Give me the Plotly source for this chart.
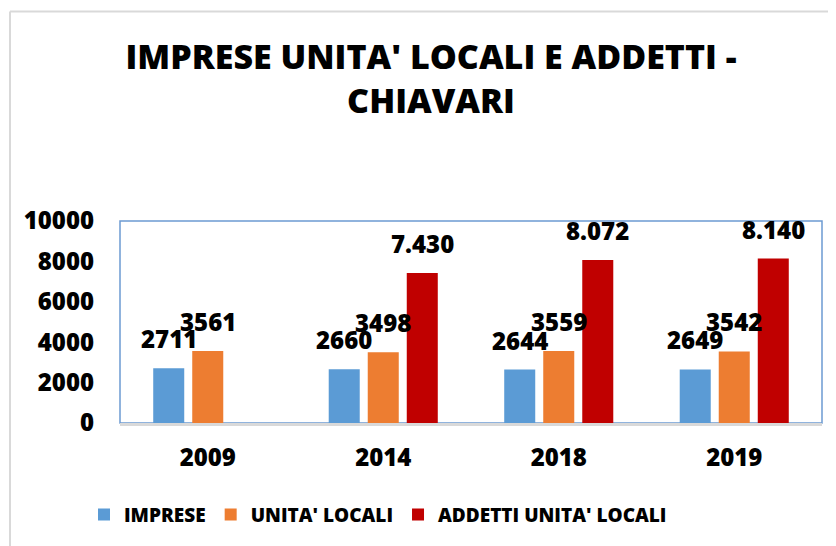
import plotly.graph_objects as go

years = ["2009", "2014", "2018", "2019"]
imprese = [2711, 2660, 2644, 2649]
unita_locali = [3561, 3498, 3559, 3542]
addetti = [None, 7430, 8072, 8140]

series_names = ["IMPRESE", "UNITA' LOCALI", "ADDETTI UNITA' LOCALI"]
colors = ["#5B9BD5", "#ED7D31", "#C00000"]
y_ticks = [0, 2000, 4000, 6000, 8000, 10000]

FONT = "Open Sans"
fs = 24

# figure is placed at (8, 8) in the page (body margin)
W, H = 828, 538
L, R, T, B = 112, 14, 213, 123
PW, PH = W - L - R, H - T - B

def fmt_plain(v):
    return str(v)

def fmt_dot(v):
    return f"{v:,}".replace(",", ".")

fig = go.Figure()
all_series = [imprese, unita_locali, addetti]
for name, vals, col in zip(series_names, all_series, colors):
    fig.add_trace(go.Bar(x=years, y=vals, name=name, marker_color=col,
                         marker_line_width=0))

annotations = []
shifts = [-39, 0, 39]
formats = [fmt_plain, fmt_plain, fmt_dot]
for vals, sh, f in zip(all_series, shifts, formats):
    for i, v in enumerate(vals):
        if v is None:
            continue
        annotations.append(dict(x=i, y=v, xref="x", yref="y", text=f(v), showarrow=False,
                                xshift=sh, yshift=11, yanchor="bottom",
                                font=dict(family=FONT, size=fs, color="black", weight=800)))

fx = lambda px: (px - L) / PW
fy = lambda py: (H - B - py) / PH

fig.update_layout(
    width=W, height=H,
    margin=dict(l=L, r=R, t=T, b=B, autoexpand=False),
    paper_bgcolor="white", plot_bgcolor="white",
    bargap=0.333, bargroupgap=0.205,
    title=dict(text="IMPRESE UNITA' LOCALI E ADDETTI -<br>CHIAVARI",
               x=423 / W, xanchor="center", xref="container",
               y=1 - 61 / H, yanchor="top", yref="container",
               font=dict(family=FONT, size=34, color="black", weight=800)),
    font=dict(family=FONT, size=fs, color="black"),
    showlegend=True,
    legend=dict(orientation="h", x=fx(76), xanchor="left", y=-0.36, yanchor="top",
                font=dict(family=FONT, size=19, color="black", weight=800),
                itemwidth=30, traceorder="normal"),
    annotations=annotations,
    shapes=[
        dict(type="rect", xref="paper", yref="paper", x0=0, x1=1, y0=0, y1=1,
             line=dict(color="#6C9BD2", width=1.5), layer="below"),
        dict(type="line", xref="paper", yref="paper",
             x0=fx(2), x1=fx(W + 5), y0=fy(3.5), y1=fy(3.5),
             line=dict(color="#D9D9D9", width=2)),
        dict(type="line", xref="paper", yref="paper",
             x0=fx(2), x1=fx(2), y0=fy(3.5), y1=fy(H + 5),
             line=dict(color="#D9D9D9", width=2)),
    ],
)
fig.update_xaxes(type="category", range=[-0.5, 3.5], showline=True,
                 linecolor="#D9D9D9", linewidth=2.5,
                 ticks="", ticklabelstandoff=11,
                 tickfont=dict(family=FONT, size=fs, color="black", weight=800))
fig.update_yaxes(range=[0, 10000], tickvals=y_ticks, ticktext=[str(t) for t in y_ticks],
                 showgrid=False, zeroline=False,
                 showline=False, ticks="", ticklabelstandoff=25,
                 tickfont=dict(family=FONT, size=fs, color="black", weight=800))

fig.write_html("out.html")
